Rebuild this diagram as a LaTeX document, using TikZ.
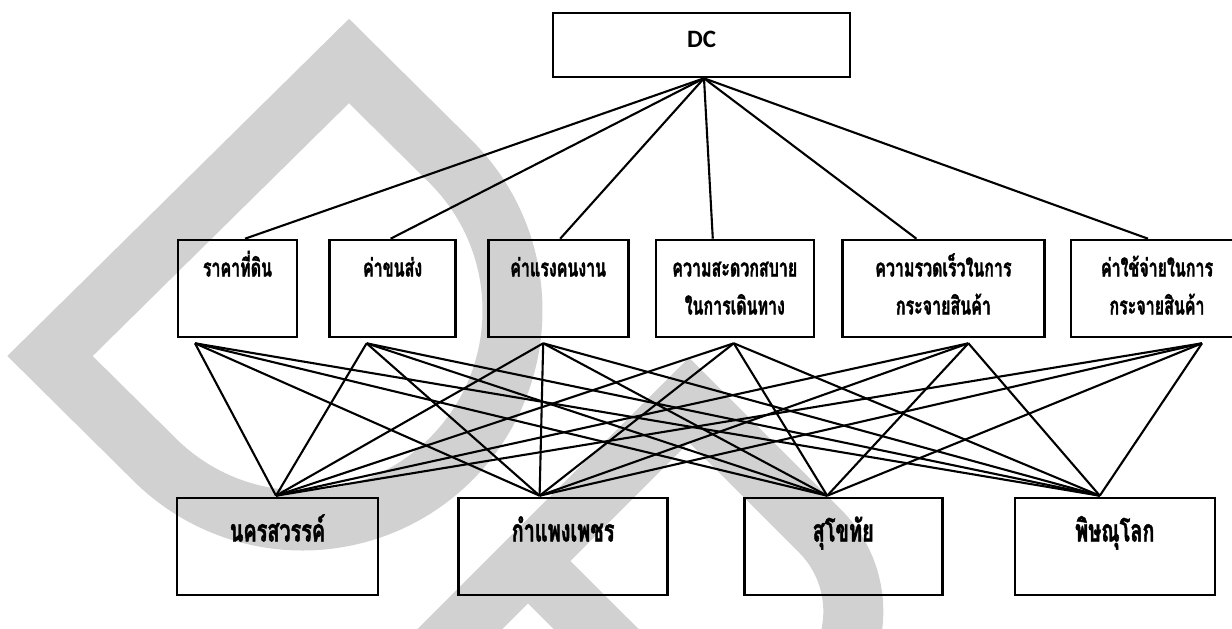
\documentclass[tikz,border=0pt]{standalone}
\usepackage{fontspec}
\setmainfont{Carlito}
\newfontfamily\thaifont[Script=Thai,FakeStretch=0.64,BoldFeatures={FakeBold=1.4}]{Loma}
\usetikzlibrary{positioning,backgrounds,calc}

\begin{document}
\begin{tikzpicture}[
    x=1pt, y=-1pt,
    line width=2.1pt,
    box/.style={draw, rectangle, line width=2.6pt, inner sep=0pt},
    dcbox/.style={box, font=\bfseries\fontsize{25}{30}\selectfont,
      text height=34.5pt, text depth=29.5pt},
    crit/.style={box, align=center, minimum height=97pt,
      font=\thaifont\bfseries\fontsize{25}{38}\selectfont,
      text height=36.5pt, text depth=60.5pt},
    crittwo/.style={crit, text height=74.5pt, text depth=22.5pt},
    city/.style={box, minimum height=97pt,
      font=\thaifont\bfseries\fontsize{31}{40}\selectfont,
      text height=43.5pt, text depth=53.5pt},
    wmark/.style={draw=black!18, line width=60pt}
  ]
  \useasboundingbox (0,0) rectangle (1232,629);

  % goal
  \node[dcbox, minimum width=297pt] (dc) at (701.5,45) {DC};

  % criteria
  \node[crit, minimum width=119pt] (land) at (237.5,288.5) {ราคาที่ดิน};
  \node[crit, minimum width=126pt, right=30pt of land] (transport) {ค่าขนส่ง};
  \node[crit, minimum width=140pt, right=30pt of transport] (labour) {ค่าแรงคนงาน};
  \node[crittwo, minimum width=158pt, right=25pt of labour] (travel) {ความสะดวกสบาย\\ในการเดินทาง};
  \node[crittwo, minimum width=202pt, right=26pt of travel] (speed) {ความรวดเร็วในการ\\กระจายสินค้า};
  \node[crittwo, minimum width=172pt, right=24pt of speed] (cost) {ค่าใช้จ่ายในการ\\กระจายสินค้า};

  % alternatives
  \node[city, minimum width=201pt] (nakhon) at (277.5,546.5) {นครสวรรค์};
  \node[city, minimum width=209pt, right=78pt of nakhon] (kamphaeng) {กำแพงเพชร};
  \node[city, minimum width=198pt, right=74pt of kamphaeng] (sukhothai) {สุโขทัย};
  \node[city, minimum width=200pt, right=70pt of sukhothai] (phitsanulok) {พิษณุโลก};

  \coordinate (dc-s) at ([xshift=2.5pt]dc.south);
  \foreach \n/\dx in {land/7.5, transport/-2, labour/2, travel/-22, speed/-27, cost/-9}
    \draw (dc-s) -- ([xshift=\dx pt]\n.north);

  \foreach \n/\dx in {land/-42.5, transport/-26, labour/-15, travel/-1, speed/25, cost/45}
    \coordinate (\n-s) at ([xshift=\dx pt, yshift=-5pt]\n.south);
  \foreach \c/\dx in {nakhon/-1.5, kamphaeng/-23.5, sukhothai/-16, phitsanulok/-15}
    \coordinate (\c-n) at ([xshift=\dx pt, yshift=1pt]\c.north);

  \foreach \n in {land, transport, labour, travel, speed, cost}
    \foreach \c in {nakhon, kamphaeng, sukhothai, phitsanulok}
      \draw (\n-s) -- (\c-n);

  % watermark
  \begin{scope}[on background layer]
    \draw[wmark] (349,61) -- (50,356) -- (154,459)
      arc[start angle=225, end angle=405, radius=210pt] -- cycle;
    \draw[wmark] (392,697) -- (689,400) -- (820,531)
      arc[start angle=45, end angle=-135, radius=113.8pt] -- (530,563);
  \end{scope}
\end{tikzpicture}
\end{document}
